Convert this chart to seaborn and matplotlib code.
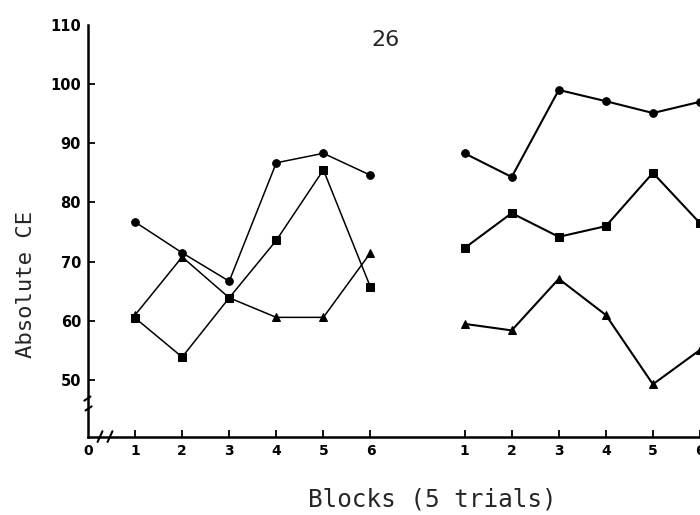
import matplotlib
matplotlib.use("Agg")
import matplotlib.pyplot as plt
import seaborn as sns
import pandas as pd

sns.set_style("white")

# ======================
# DATA
# ======================
blocks = [1, 2, 3, 4, 5, 6]
tick_labels = ["0", "1", "2", "3", "4", "5", "6", "1", "2", "3", "4", "5", "6"]

# first session (blocks 1-6)
left_top = [76.7, 71.5, 66.7, 86.7, 88.3, 84.6]
left_mid = [60.5, 53.9, 63.9, 73.6, 85.5, 65.7]
left_low = [61.0, 70.8, 63.9, 60.6, 60.6, 71.5]

# second session (blocks 1-6, drawn after a gap)
right_top = [88.3, 84.3, 99.0, 97.1, 95.1, 97.0]
right_mid = [72.3, 78.2, 74.2, 76.0, 85.0, 76.5]
right_low = [59.5, 58.4, 67.1, 61.0, 49.3, 55.1]

gap = 7  # second session starts at position 8

# ======================
# PLOTTING
# ======================
fig = plt.figure(figsize=(7, 5.15), dpi=100)
ax = fig.add_axes([88 / 700, 1 - 437 / 515, 1 - 88 / 700, (437 - 24.8) / 515])

series = [
    (left_top, 0, "o", 1.1),
    (left_mid, 0, "s", 1.1),
    (left_low, 0, "^", 1.1),
    (right_top, gap, "o", 1.5),
    (right_mid, gap, "s", 1.5),
    (right_low, gap, "^", 1.5),
]
for vals, off, mk, lw in series:
    df = pd.DataFrame({"x": [b + off for b in blocks], "y": vals})
    sns.lineplot(data=df, x="x", y="y", color="black", marker=mk,
                 markersize=5.5, markeredgecolor="black", linewidth=lw,
                 ax=ax, clip_on=True)

ax.set_xlim(0, 612 / 47.2)
ax.set_ylim(40.4, 110)

ax.set_xticks([0] + blocks + [b + gap for b in blocks])
ax.set_xticklabels(tick_labels, fontsize=10, fontweight="bold")
ax.set_yticks([50, 60, 70, 80, 90, 100, 110])
ax.set_yticklabels(["50", "60", "70", "80", "90", "100", "110"],
                   fontsize=10.5, fontweight="bold")
ax.tick_params(axis="both", direction="in", length=5, width=1.3, pad=5,
               colors="black")
ax.tick_params(axis="x", which="both", bottom=True)
ax.tick_params(axis="y", which="both", left=True)
ax.xaxis.get_major_ticks()[0].tick1line.set_visible(False)
ax.yaxis.get_major_ticks()[-1].tick1line.set_visible(False)

ax.set_xlabel("")
ax.set_ylabel("")
sns.despine(ax=ax)
for s in ["left", "bottom"]:
    ax.spines[s].set_linewidth(1.8)
    ax.spines[s].set_color("black")

# axis breaks
yb0, yb1 = (437 - 408) / 412.2, (437 - 399) / 412.2
ax.plot([0, 0], [yb0, yb1], transform=ax.transAxes, color="white", lw=4,
        clip_on=False, solid_capstyle="butt")
ax.plot([-0.006, 0.004], [yb1 - 0.004, yb1 + 0.006], transform=ax.transAxes,
        color="black", lw=1.5, clip_on=False)
ax.plot([-0.004, 0.006], [yb0 - 0.006, yb0 + 0.004], transform=ax.transAxes,
        color="black", lw=1.5, clip_on=False)
xb0, xb1 = (100 - 88) / 612, (110 - 88) / 612
ax.plot([xb0, xb1], [0, 0], transform=ax.transAxes, color="white", lw=4,
        clip_on=False, solid_capstyle="butt")
ax.plot([xb0 - 0.004, xb0 + 0.004], [-0.012, 0.014], transform=ax.transAxes,
        color="black", lw=1.5, clip_on=False)
ax.plot([xb1 - 0.004, xb1 + 0.004], [-0.012, 0.014], transform=ax.transAxes,
        color="black", lw=1.5, clip_on=False)

fig.text(386 / 700, 1 - 40 / 515, "26", fontsize=16, ha="center", va="center")
fig.text(26 / 700, 1 - 284 / 515, "Absolute CE", rotation=90, fontsize=16,
         family="DejaVu Sans Mono", ha="center", va="center")
fig.text(432 / 700, 1 - 499 / 515, "Blocks (5 trials)", fontsize=17.5,
         family="DejaVu Sans Mono", ha="center", va="center")

# ======================
# SAVE
# ======================
fig.savefig("out.png", dpi=100)
plt.close(fig)
